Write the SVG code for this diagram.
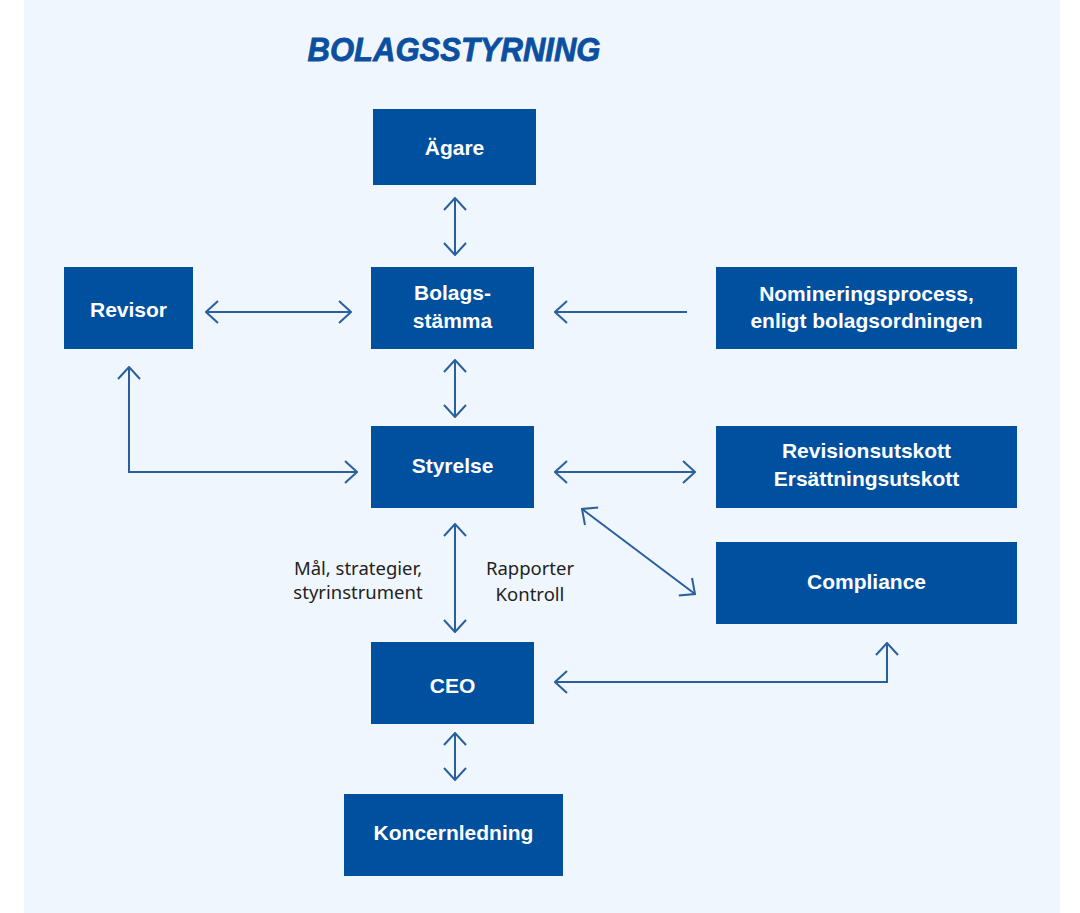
<svg xmlns="http://www.w3.org/2000/svg" width="1080" height="913" viewBox="0 0 1080 913">
<defs>
<style>
.box{fill:#0050a0}
.nt{font-family:"Liberation Sans",Arial,sans-serif;font-weight:bold;font-size:21px;fill:#ffffff;text-anchor:middle}
.lbl{font-family:"Noto Sans","Liberation Sans",sans-serif;font-size:18.5px;fill:#222222;text-anchor:middle}
.cn{fill:none;stroke:#2a5f9e;stroke-width:2}
</style>
<marker id="ah" viewBox="0 0 14 24" refX="13" refY="12" markerWidth="14" markerHeight="24" markerUnits="userSpaceOnUse" orient="auto-start-reverse">
<path d="M1,1 L13,12 L1,23" fill="none" stroke="#2a5f9e" stroke-width="2"/>
</marker>
</defs>
<rect x="0" y="0" width="1080" height="913" fill="#ffffff"/>
<rect x="24" y="0" width="1036" height="913" fill="#f0f6fd"/>
<text x="454" y="61" font-family="Liberation Sans,Arial,sans-serif" font-weight="bold" font-style="italic" font-size="34" fill="#0a4fa0" stroke="#0a4fa0" stroke-width="0.8" text-anchor="middle" textLength="293" lengthAdjust="spacingAndGlyphs">BOLAGSSTYRNING</text>
<g id="connectors">
<line class="cn" x1="455" y1="198" x2="455" y2="255" marker-start="url(#ah)" marker-end="url(#ah)"/>
<line class="cn" x1="206" y1="312" x2="351" y2="312" marker-start="url(#ah)" marker-end="url(#ah)"/>
<line class="cn" x1="687" y1="312" x2="555" y2="312" marker-end="url(#ah)"/>
<line class="cn" x1="455" y1="360" x2="455" y2="417" marker-start="url(#ah)" marker-end="url(#ah)"/>
<polyline class="cn" points="129,367 129,472 357,472" marker-start="url(#ah)" marker-end="url(#ah)"/>
<line class="cn" x1="555" y1="472" x2="695" y2="472" marker-start="url(#ah)" marker-end="url(#ah)"/>
<line class="cn" x1="582" y1="509" x2="695" y2="594" marker-start="url(#ah)" marker-end="url(#ah)"/>
<line class="cn" x1="455" y1="524" x2="455" y2="632" marker-start="url(#ah)" marker-end="url(#ah)"/>
<polyline class="cn" points="555,682 887,682 887,643" marker-start="url(#ah)" marker-end="url(#ah)"/>
<line class="cn" x1="455" y1="733" x2="455" y2="780" marker-start="url(#ah)" marker-end="url(#ah)"/>
<text class="lbl" x="358" y="575">Mål, strategier,</text>
<text class="lbl" x="358" y="599">styrinstrument</text>
<text class="lbl" x="530" y="575">Rapporter</text>
<text class="lbl" x="530" y="601">Kontroll</text>
</g>
<g id="agare"><rect class="box" x="373" y="109" width="163" height="76"/><text class="nt" x="454.5" y="155">Ägare</text></g>
<g id="bolagsstamma"><rect class="box" x="371" y="267" width="163" height="82"/><text class="nt" x="452.5" y="300">Bolags-</text><text class="nt" x="452.5" y="328">stämma</text></g>
<g id="revisor"><rect class="box" x="64" y="267" width="129" height="82"/><text class="nt" x="128.5" y="317">Revisor</text></g>
<g id="nominering"><rect class="box" x="716" y="267" width="301" height="82"/><text class="nt" x="866.5" y="301">Nomineringsprocess,</text><text class="nt" x="866.5" y="328">enligt bolagsordningen</text></g>
<g id="styrelse"><rect class="box" x="371" y="426" width="163" height="82"/><text class="nt" x="452.5" y="473">Styrelse</text></g>
<g id="utskott"><rect class="box" x="716" y="426" width="301" height="82"/><text class="nt" x="866.5" y="458">Revisionsutskott</text><text class="nt" x="866.5" y="486">Ersättningsutskott</text></g>
<g id="compliance"><rect class="box" x="716" y="542" width="301" height="82"/><text class="nt" x="866.5" y="589">Compliance</text></g>
<g id="ceo"><rect class="box" x="371" y="642" width="163" height="82"/><text class="nt" x="452.5" y="693">CEO</text></g>
<g id="koncernledning"><rect class="box" x="344" y="794" width="219" height="82"/><text class="nt" x="453.5" y="840">Koncernledning</text></g>
</svg>
